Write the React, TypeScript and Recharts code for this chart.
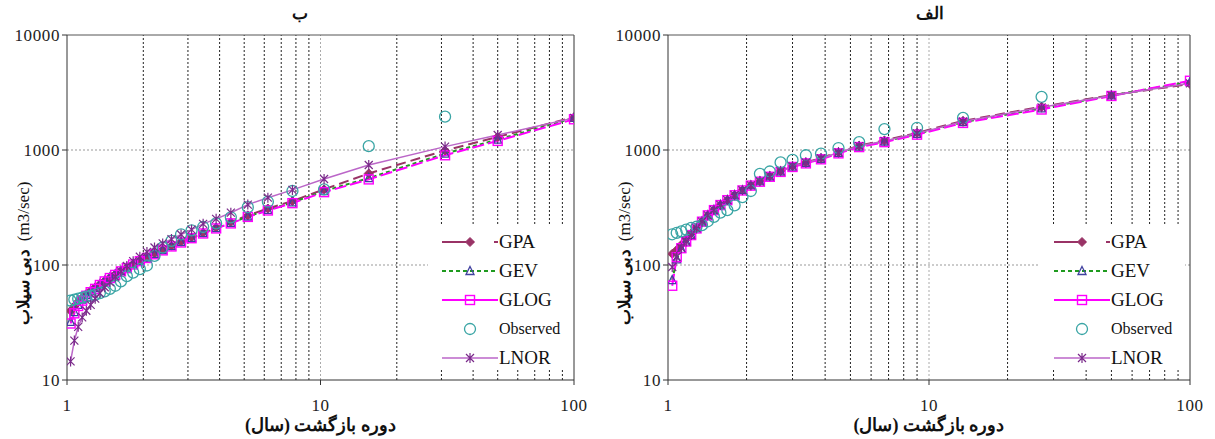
import React from 'react';
import { ComposedChart, Line, XAxis, YAxis, ReferenceLine, Legend } from 'recharts';

// Panel "ب" (left) – return periods and discharge values
const periodsB = [1.033, 1.069, 1.107, 1.148, 1.192, 1.24, 1.292, 1.348, 1.409, 1.476, 1.55, 1.632, 1.722, 1.824, 1.938, 2.067, 2.214, 2.385, 2.583, 2.818, 3.1, 3.444, 3.875, 4.429, 5.167, 6.2, 7.75, 10.33, 15.5, 31, 50, 100];
const gpaB = [40, 44, 48, 52, 56, 60, 64, 68, 73, 78, 83, 89, 95, 102, 109, 117, 126, 136, 147, 159, 174, 191, 212, 236, 270, 310, 360, 455, 625, 990, 1300, 1930];
const gevB = [32, 39, 45, 50, 55, 59, 63, 68, 73, 78, 83, 89, 95, 102, 109, 116, 125, 135, 146, 158, 172, 189, 209, 232, 264, 301, 350, 440, 570, 930, 1230, 1900];
const glogB = [31, 38, 44, 49, 54, 58, 62, 67, 72, 77, 82, 88, 94, 101, 108, 115, 124, 134, 145, 157, 171, 188, 208, 230, 262, 298, 345, 430, 555, 900, 1200, 1850];
const observedB = [49, 50, 51, 52, 53, 54, 55, 57, 59, 62, 66, 72, 80, 86, 92, 99, 120, 142, 162, 185, 200, 214, 230, 260, 318, 355, 440, 455, 1080, 1950, null, null];
const lnorB = [14.5, 22, 29, 35, 40, 45, 51, 57, 64, 71, 79, 88, 98, 108, 118, 130, 142, 154, 168, 184, 203, 228, 252, 285, 335, 385, 450, 560, 740, 1070, 1350, 1900];

// Panel "الف" (right)
const periodsA = [1.038, 1.08, 1.125, 1.174, 1.227, 1.286, 1.35, 1.421, 1.5, 1.588, 1.688, 1.8, 1.929, 2.077, 2.25, 2.455, 2.7, 3, 3.375, 3.857, 4.5, 5.4, 6.75, 9, 13.5, 27, 50, 100];
const gpaA = [125, 135, 150, 168, 188, 212, 240, 271, 302, 334, 368, 406, 448, 494, 537, 594, 657, 726, 782, 850, 960, 1090, 1210, 1410, 1790, 2380, 3000, 3750];
const gevA = [74, 112, 138, 160, 183, 209, 239, 271, 302, 334, 368, 406, 447, 492, 533, 588, 650, 718, 772, 838, 945, 1072, 1185, 1380, 1745, 2300, 2980, 3900];
const glogA = [66, 117, 140, 160, 182, 208, 238, 270, 300, 332, 366, 404, 445, 490, 530, 585, 645, 712, 765, 830, 935, 1060, 1170, 1360, 1720, 2250, 2950, 4000];
const observedA = [185, 190, 196, 203, 210, 215, 222, 240, 262, 285, 300, 330, 390, 440, 620, 650, 780, 820, 900, 930, 1040, 1170, 1520, 1560, 1900, 2900, null, null];
const lnorA = [96, 118, 140, 160, 182, 208, 238, 270, 301, 333, 367, 405, 447, 492, 534, 590, 652, 721, 776, 843, 952, 1082, 1200, 1395, 1770, 2350, 2980, 3800];

const xTicks = [1, 10, 100];
const yTicks = [10, 100, 1000, 10000];
const minorX = [2, 3, 4, 5, 6, 7, 8, 9, 20, 30, 40, 50, 60, 70, 80, 90];
const seriesNames = ['GPA', 'GEV', 'GLOG', 'Observed', 'LNOR'];

const C = {
  GPA: '#993366',
  GEV: '#1f9a1f',
  GEVmark: '#40409f',
  GLOG: '#ff00ff',
  Observed: '#3aa5a5',
  LNOR: '#bb66c8',
  LNORmark: '#7a2a8a',
};

const serif = '"Liberation Serif", "DejaVu Serif", serif';

const buildRows = (T: number[], gpa: number[], gev: number[], glog: number[], obs: (number | null)[], lnor: number[]) =>
  T.map((t, i) => ({ T: t, GPA: gpa[i], GEV: gev[i], GLOG: glog[i], Observed: obs[i], LNOR: lnor[i] }));

const rowsB = buildRows(periodsB, gpaB, gevB, glogB, observedB, lnorB);
const rowsA = buildRows(periodsA, gpaA, gevA, glogA, observedA, lnorA);

// markers
function marker(name: string, cx: number, cy: number, key?: any) {
  switch (name) {
    case 'GPA':
      return <path key={key} d={`M${cx},${cy - 4.5}L${cx + 4.5},${cy}L${cx},${cy + 4.5}L${cx - 4.5},${cy}Z`} fill={C.GPA} stroke={C.GPA} />;
    case 'GEV':
      return <path key={key} d={`M${cx},${cy - 4.5}L${cx + 4},${cy + 3.5}L${cx - 4},${cy + 3.5}Z`} fill="none" stroke={C.GEVmark} strokeWidth={1.3} />;
    case 'GLOG':
      return <rect key={key} x={cx - 4.5} y={cy - 4.5} width={9} height={9} fill="none" stroke={C.GLOG} strokeWidth={1.4} />;
    case 'Observed':
      return <circle key={key} cx={cx} cy={cy} r={5.5} fill="none" stroke={C.Observed} strokeWidth={1.3} />;
    default:
      return (
        <path key={key} d={`M${cx - 4},${cy - 4}L${cx + 4},${cy + 4}M${cx - 4},${cy + 4}L${cx + 4},${cy - 4}M${cx},${cy - 5}L${cx},${cy + 5}`}
          stroke={C.LNORmark} strokeWidth={1.2} fill="none" />
      );
  }
}

const dotFor = (name: string) => (p: any) => {
  if (p.cx == null || p.cy == null || p.value == null) return <g key={p.index} />;
  return marker(name, p.cx, p.cy, p.index);
};

function LegendBox() {
  const lineStyle: Record<string, any> = {
    GPA: { stroke: C.GPA, dash: '24 4 4 20', w: 2 },
    GEV: { stroke: C.GEV, dash: '4 3', w: 2 },
    GLOG: { stroke: C.GLOG, dash: undefined, w: 2 },
    Observed: null,
    LNOR: { stroke: C.LNOR, dash: undefined, w: 1.6 },
  };
  return (
    <div style={{ paddingTop: 2 }}>
      {seriesNames.map((n) => (
        <div key={n} style={{ display: 'flex', alignItems: 'center', height: 29 }}>
          <svg width={56} height={14} style={{ marginLeft: 14 }}>
            {lineStyle[n] && (
              <line x1={0} y1={7} x2={56} y2={7} stroke={lineStyle[n].stroke} strokeWidth={lineStyle[n].w} strokeDasharray={lineStyle[n].dash} />
            )}
            {marker(n, 28, 7)}
          </svg>
          <span style={{ fontFamily: serif, fontSize: n === 'Observed' ? 16 : 19, color: '#111', marginLeft: 1 }}>{n}</span>
        </div>
      ))}
    </div>
  );
}

const xLabel = (props: any) => {
  const { x, y, width, height } = props.viewBox;
  return (
    <text x={x + width / 2} y={y + height - 8} textAnchor="middle" direction="rtl" fontFamily={serif} fontSize={18} fontWeight="bold" fill="#111">
      دوره بازگشت (سال)
    </text>
  );
};

const yLabel = (props: any) => {
  const { x, y, height } = props.viewBox;
  const cx = x + 1;
  const cy = y + height / 2 + 46;
  return (
    <text x={cx} y={cy} transform={`rotate(-90 ${cx} ${cy})`} textAnchor="middle" dominantBaseline="central" fontFamily={serif} fontSize={17} fill="#111">
      <tspan fontWeight="bold">دبی سیلاب</tspan>
      <tspan dx={8}>(m3/sec)</tspan>
    </text>
  );
};

function Panel({ rows, width, mLeft, mRight, legendLeft }: any) {
  const tick = { fontSize: 17, fill: '#222', fontFamily: serif, letterSpacing: 0.6 };
  return (
    <ComposedChart width={width} height={439} data={rows} margin={{ top: 35, right: mRight, bottom: 0, left: mLeft }}>
      <XAxis dataKey="T" type="number" scale="log" domain={[1, 100]} ticks={xTicks} allowDataOverflow
        tick={tick} tickSize={5} tickMargin={14} height={59} stroke="#333" label={{ content: xLabel }} />
      <YAxis type="number" scale="log" domain={[10, 10000]} ticks={yTicks} allowDataOverflow
        tick={tick} tickSize={5} tickMargin={2} width={45} stroke="#333" label={{ content: yLabel }} />
      {minorX.map((v) => (
        <ReferenceLine key={'v' + v} x={v} stroke="#222" strokeDasharray="2 2" strokeWidth={1} />
      ))}
      <ReferenceLine x={10} stroke="#aaa" strokeDasharray="2 2" />
      <ReferenceLine y={100} stroke="#999" strokeDasharray="2 2" />
      <ReferenceLine y={1000} stroke="#999" strokeDasharray="2 2" />
      <ReferenceLine x={100} stroke="#333" />
      <ReferenceLine y={10000} stroke="#555" />
      <Line dataKey="GPA" stroke={C.GPA} strokeWidth={2} strokeDasharray="10 5" dot={dotFor('GPA')} activeDot={false} isAnimationActive={false} />
      <Line dataKey="GEV" stroke={C.GEV} strokeWidth={2} strokeDasharray="4 3" dot={dotFor('GEV')} activeDot={false} isAnimationActive={false} />
      <Line dataKey="GLOG" stroke={C.GLOG} strokeWidth={2} strokeDasharray="12 4" dot={dotFor('GLOG')} activeDot={false} isAnimationActive={false} />
      <Line dataKey="Observed" stroke="none" dot={dotFor('Observed')} activeDot={false} isAnimationActive={false} />
      <Line dataKey="LNOR" stroke={C.LNOR} strokeWidth={1.5} dot={dotFor('LNOR')} activeDot={false} isAnimationActive={false} />
      <Legend content={() => <LegendBox />} layout="horizontal" verticalAlign="middle" align="center"
        wrapperStyle={{ left: legendLeft, top: 225, width: 145, height: 145, background: '#fff' }} />
    </ComposedChart>
  );
}

export default function App() {
  const titleStyle: React.CSSProperties = {
    position: 'absolute', top: 3, transform: 'translateX(-50%)', fontFamily: serif, fontWeight: 'bold', fontSize: 17, color: '#111',
  };
  return (
    <div style={{ position: 'absolute', left: 0, top: 0, width: 1215, height: 439, background: '#fff', overflow: 'hidden' }}>
      <div style={{ position: 'absolute', left: 0, top: 0 }}>
        <Panel rows={rowsB} width={600} mLeft={22} mRight={26} legendLeft={428} />
      </div>
      <div style={{ position: 'absolute', left: 600, top: 0 }}>
        <Panel rows={rowsA} width={615} mLeft={23} mRight={25} legendLeft={440} />
      </div>
      <div style={{ ...titleStyle, left: 300 }}>ب</div>
      <div style={{ ...titleStyle, left: 930 }}>الف</div>
    </div>
  );
}
